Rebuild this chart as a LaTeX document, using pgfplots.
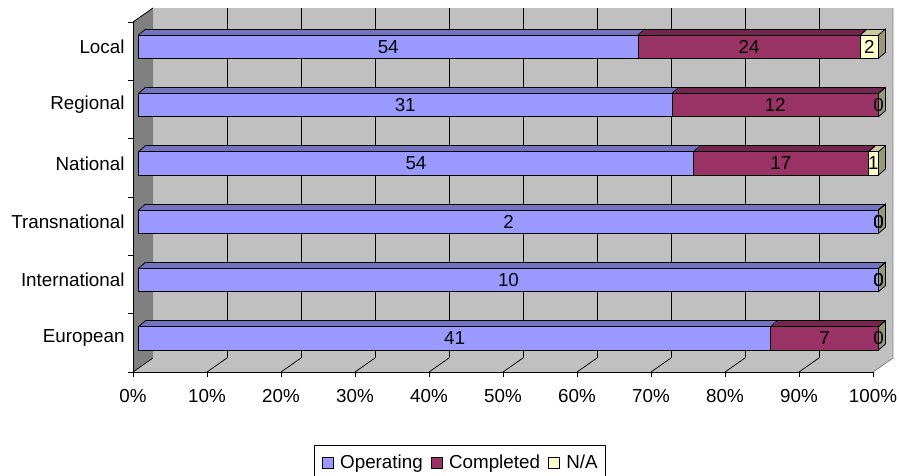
\documentclass[border=0pt]{standalone}
\usepackage{fontspec}
\setmainfont{Liberation Sans}
\usepackage{pgfplots}
\usepackage{pgfplotstable}
\pgfplotsset{compat=1.18}

\definecolor{wallgray}{HTML}{C0C0C0}
\definecolor{sidegray}{HTML}{808080}
\definecolor{opfront}{HTML}{9999FF}
\definecolor{optop}{HTML}{7373BF}
\definecolor{cofront}{HTML}{993366}
\definecolor{cotop}{HTML}{73264D}
\definecolor{nafront}{HTML}{FFFFCC}
\definecolor{natop}{HTML}{CCCCA3}
\definecolor{naside}{HTML}{99997A}

\newcommand\chartfont{\fontsize{18.8bp}{22bp}\selectfont}

% bar geometry (front face offset 5.5bp/4.5bp, bar thickness 23.3bp, depth 7bp/6bp)
% slanted edge between the front top edge and the top face
\pgfdeclareplotmark{slantedge}{%
  \pgfpathmoveto{\pgfqpoint{5.5bp}{16.15bp}}%
  \pgfpathlineto{\pgfqpoint{12.5bp}{22.15bp}}%
  \pgfusepathqstroke}
% right end face of a bar
\pgfdeclareplotmark{endface}{%
  \pgfpathmoveto{\pgfqpoint{5.5bp}{16.15bp}}%
  \pgfpathlineto{\pgfqpoint{12.5bp}{22.15bp}}%
  \pgfpathlineto{\pgfqpoint{12.5bp}{-1.15bp}}%
  \pgfpathlineto{\pgfqpoint{5.5bp}{-7.15bp}}%
  \pgfpathclose
  \pgfusepathqfillstroke}

% projects by scope and status
\pgfplotstableread{
cat op comp na
European 41 7 0
International 10 0 0
Transnational 2 0 0
National 54 17 1
Regional 31 12 0
Local 54 24 2
}\counts

\def\segtotal{(\thisrow{op}+\thisrow{comp}+\thisrow{na})}

\begin{document}
\begin{tikzpicture}
\useasboundingbox (-133bp,-104bp) rectangle (766bp,372bp);

% back wall, side wall and floor
\fill[wallgray] (20bp,14bp) rectangle (760bp,364bp);
\fill[sidegray] (0bp,0bp) -- (20bp,14bp) -- (20bp,364bp) -- (0bp,350bp) -- cycle;
\fill[wallgray] (0bp,0bp) -- (740bp,0bp) -- (760bp,14bp) -- (20bp,14bp) -- cycle;
\foreach \k in {1,...,9} {
  \draw[black, line width=0.75bp] ({20bp+74bp*\k},14bp) -- ({20bp+74bp*\k},364bp);
  \draw[black, line width=0.75bp] ({74bp*\k},0bp) -- ({20bp+74bp*\k},14bp);
}
\draw[black, line width=0.75bp] (0bp,0bp) -- (20bp,14bp);
\draw[sidegray, line width=0.75bp] (740bp,0bp) -- (760bp,14bp) -- (760bp,364bp);
\draw[black, line width=0.8bp] (0bp,350bp) -- (20bp,364bp);

\begin{axis}[
  scale only axis, width=740bp, height=350bp,
  xmin=0, xmax=100, ymin=0, ymax=6,
  clip=false,
  axis line style={draw=none},
  tick pos=left, tick align=outside,
  major tick length=5bp,
  tick style={black, line width=0.8bp},
  xtick={0,10,...,100},
  xticklabels={0\%,10\%,20\%,30\%,40\%,50\%,60\%,70\%,80\%,90\%,100\%},
  x tick label style={yshift=-9bp},
  ytick={0,1,2,3,4,5,6},
  yticklabel={\mbox{}},
  extra y ticks={0.5,1.5,2.5,3.5,4.5,5.5},
  extra y tick labels={European,International,Transnational,National,Regional,Local},
  extra y tick style={tick style={draw=none}, yticklabel style={yshift=4.5bp}},
  ticklabel style={font=\chartfont},
  legend style={at={(0.2446,-0.2077)}, anchor=north west, draw=black,
    line width=0.8bp, font=\chartfont, legend columns=3,
    inner xsep=7.5bp, inner ysep=10bp,
    nodes={inner sep=0pt},
    /tikz/every odd column/.append style={column sep=6.5bp},
    /tikz/every even column/.append style={column sep=8bp}},
  legend image code/.code={\draw[#1, line width=0.8bp] (0bp,-5.3bp) rectangle (11bp,5.3bp);},
]

% top faces, swept back along the depth of the bars
\pgfplotsinvokeforeach{1,...,8}{%
  \addplot[xbar, bar shift=0pt, bar width=1.4bp, draw=none, fill=natop, forget plot,
    xshift={5.5bp+#1*0.875bp}, yshift={15.45bp+#1*0.75bp}]
    table[x expr={100*(\thisrow{op}+\thisrow{comp}+\thisrow{na})/\segtotal}, y expr=\coordindex+0.5] {\counts};
}
\pgfplotsinvokeforeach{1,...,8}{%
  \addplot[xbar, bar shift=0pt, bar width=1.4bp, draw=none, fill=cotop, forget plot,
    xshift={5.5bp+#1*0.875bp}, yshift={15.45bp+#1*0.75bp}]
    table[x expr={100*(\thisrow{op}+\thisrow{comp})/\segtotal}, y expr=\coordindex+0.5] {\counts};
}
\pgfplotsinvokeforeach{1,...,8}{%
  \addplot[xbar, bar shift=0pt, bar width=1.4bp, draw=none, fill=optop, forget plot,
    xshift={5.5bp+#1*0.875bp}, yshift={15.45bp+#1*0.75bp}]
    table[x expr={100*\thisrow{op}/\segtotal}, y expr=\coordindex+0.5] {\counts};
}

% back edge of the top faces
\addplot[xbar, bar shift=0pt, bar width=0pt, draw=black, line width=0.8bp, forget plot,
  xshift=12.5bp, yshift=22.15bp]
  table[x expr={100*(\thisrow{op}+\thisrow{comp}+\thisrow{na})/\segtotal}, y expr=\coordindex+0.5] {\counts};

% right end faces
\addplot[only marks, mark=endface, mark options={fill=naside, draw=black, line width=0.8bp}, forget plot]
  table[x expr={100*(\thisrow{op}+\thisrow{comp}+\thisrow{na})/\segtotal}, y expr=\coordindex+0.5] {\counts};

% slanted edges at the start of each segment
\addplot[only marks, mark=slantedge, mark options={draw=black, line width=0.8bp}, forget plot]
  table[x expr={0*\thisrow{op}}, y expr=\coordindex+0.5] {\counts};
\addplot[only marks, mark=slantedge, mark options={draw=black, line width=0.8bp}, forget plot]
  table[x expr={100*\thisrow{op}/\segtotal}, y expr=\coordindex+0.5] {\counts};
\addplot[only marks, mark=slantedge, mark options={draw=black, line width=0.8bp}, forget plot]
  table[x expr={100*(\thisrow{op}+\thisrow{comp})/\segtotal}, y expr=\coordindex+0.5] {\counts};

% front faces, widest first
\addplot[xbar, bar shift=0pt, bar width=23.3bp, fill=nafront, draw=black, line width=0.8bp, forget plot,
  xshift=5.5bp, yshift=4.5bp]
  table[x expr={100*(\thisrow{op}+\thisrow{comp}+\thisrow{na})/\segtotal}, y expr=\coordindex+0.5] {\counts};
\addplot[xbar, bar shift=0pt, bar width=23.3bp, fill=cofront, draw=black, line width=0.8bp, forget plot,
  xshift=5.5bp, yshift=4.5bp]
  table[x expr={100*(\thisrow{op}+\thisrow{comp})/\segtotal}, y expr=\coordindex+0.5] {\counts};
\addplot[xbar, bar shift=0pt, bar width=23.3bp, fill=opfront, draw=black, line width=0.8bp, forget plot,
  xshift=5.5bp, yshift=4.5bp]
  table[x expr={100*\thisrow{op}/\segtotal}, y expr=\coordindex+0.5] {\counts};

% value labels in the middle of each segment
\pgfplotsset{seglabel/.style={only marks, mark=*, mark size=0pt, mark options={draw=none, fill=none},
  forget plot, point meta=explicit symbolic, nodes near coords,
  nodes near coords style={font=\chartfont, anchor=center, inner sep=0pt, xshift=5.5bp, yshift=4.5bp}}}
\addplot[seglabel] table[x expr={50*\thisrow{op}/\segtotal}, y expr=\coordindex+0.5, meta=op] {\counts};
\addplot[seglabel] table[x expr={100*(\thisrow{op}+0.5*\thisrow{comp})/\segtotal}, y expr=\coordindex+0.5, meta=comp] {\counts};
\addplot[seglabel] table[x expr={100*(\thisrow{op}+\thisrow{comp}+0.5*\thisrow{na})/\segtotal}, y expr=\coordindex+0.5, meta=na] {\counts};

\addlegendimage{fill=opfront, draw=black}
\addlegendentry{Operating}
\addlegendimage{fill=cofront, draw=black}
\addlegendentry{Completed}
\addlegendimage{fill=nafront, draw=black}
\addlegendentry{N/A\hspace{4.5bp}}
\end{axis}

% front axis lines
\draw[black, line width=0.8bp] (0bp,350bp) -- (0bp,0bp) -- (740bp,0bp);
\end{tikzpicture}
\end{document}
